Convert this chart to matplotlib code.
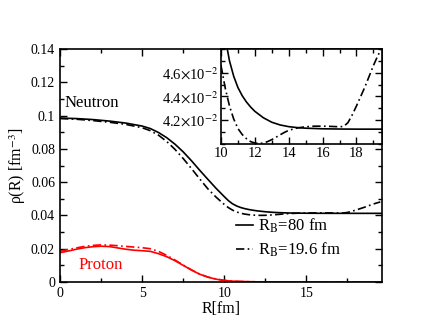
import matplotlib.pyplot as plt
from matplotlib.ticker import MultipleLocator, FuncFormatter

plt.rcParams['font.family'] = ['Liberation Serif', 'DejaVu Serif']
plt.rcParams['mathtext.fontset'] = 'stix'

# neutron density, R_B = 80 fm (solid)
r_n80 = [0, 1, 2, 3, 4, 5, 5.5, 6, 6.5, 7, 7.5, 8, 8.5, 9, 9.5, 10, 10.25, 10.5, 10.75,
         11.0, 11.25, 11.5, 11.75, 12.0, 12.5, 13.0, 13.5, 14.0, 14.5, 15.0, 16.0, 17.0,
         18.0, 19.6]
rho_n80 = [0.0985, 0.0982, 0.0976, 0.0967, 0.0955, 0.0937, 0.0922, 0.0898, 0.0867, 0.0828,
           0.0782, 0.0729, 0.0672, 0.0617, 0.0563, 0.0513, 0.0489, 0.0470, 0.0457,
           0.04475, 0.04407, 0.04354, 0.04311, 0.04275, 0.04221, 0.04183, 0.0416,
           0.04146, 0.04138, 0.04133, 0.04128, 0.04126, 0.04125, 0.04125]

# neutron density, R_B = 19.6 fm (dash-dot)
r_n19 = [0, 1, 2, 3, 4, 5, 5.5, 6, 6.5, 7, 7.5, 8, 8.5, 9, 9.5, 10, 10.25, 10.5, 10.75,
         11.0, 11.25, 11.5, 11.75, 12.0, 12.25, 12.5, 12.75, 13.0, 13.25, 13.5, 13.75,
         14.0, 14.5, 15.0, 15.5, 16.0, 16.5, 17.0, 17.25, 17.5, 17.75, 18.0, 18.25,
         18.5, 18.75, 19.0, 19.25, 19.5]
rho_n19 = [0.0982, 0.0978, 0.0970, 0.0960, 0.0947, 0.0927, 0.0909, 0.0882, 0.0844, 0.0797,
           0.0742, 0.0682, 0.0620, 0.0560, 0.0510, 0.0466, 0.0447, 0.0432, 0.0421,
           0.0413, 0.0408, 0.04045, 0.0402, 0.04008, 0.04004, 0.04008, 0.0402,
           0.04037, 0.04057, 0.04078, 0.04098, 0.04115, 0.04135, 0.04145, 0.0415,
           0.0415, 0.04148, 0.04145, 0.04148, 0.0418, 0.04245, 0.0432, 0.0440,
           0.0448, 0.0457, 0.0466, 0.0474, 0.0481]

# proton density
r_p = [0, 0.5, 1, 1.5, 2, 2.5, 3, 3.5, 4, 4.5, 5, 5.5, 6, 6.5, 7, 7.5, 8, 8.5,
       9, 9.5, 10, 10.5, 11, 12, 13, 19.6]
rho_p80 = [0.0176, 0.0186, 0.0197, 0.0206, 0.0212, 0.0215, 0.0213, 0.0205, 0.0197,
           0.0191, 0.0188, 0.0184, 0.0170, 0.0152, 0.0128, 0.0100, 0.0072, 0.0047,
           0.0029, 0.0017, 0.0009, 0.0005, 0.0003, 0.0001, 0.00004, 0.0]
rho_p19 = [0.0185, 0.0195, 0.0205, 0.0214, 0.0220, 0.0223, 0.0222, 0.0218, 0.0214,
           0.0210, 0.0206, 0.0200, 0.0184, 0.0160, 0.0132, 0.0102, 0.0073, 0.0048,
           0.0030, 0.0018, 0.0010, 0.0005, 0.0003, 0.0001, 0.00004, 0.0]

dashdot = (0, (5, 2, 1, 2))
lw = 1.2

fig = plt.figure(figsize=(4.3, 3.32), dpi=100)
ax = fig.add_axes([0.1395, 0.1506, 0.7488, 0.7018])

ax.plot(r_n80, rho_n80, color='black', lw=lw, label=r'R$_\mathrm{B}$=80 fm')
ax.plot(r_n19, rho_n19, color='black', lw=lw, ls=dashdot, label=r'R$_\mathrm{B}$=19.6 fm')
ax.plot(r_p, rho_p80, color='red', lw=lw)
ax.plot(r_p, rho_p19, color='red', lw=lw, ls=dashdot)

ax.set_xlim(0, 19.6)
ax.set_ylim(0, 0.14)
ax.xaxis.set_major_locator(MultipleLocator(5))
ax.xaxis.set_minor_locator(MultipleLocator(2.5))
ax.yaxis.set_major_locator(MultipleLocator(0.02))
ax.yaxis.set_minor_locator(MultipleLocator(0.01))
ax.yaxis.set_major_formatter(FuncFormatter(lambda v, p: '%g' % round(v, 3)))
ax.tick_params(which='both', direction='in', top=True, right=True, labelsize=10)
ax.tick_params(which='major', length=5, width=1)
ax.tick_params(which='minor', length=3, width=1)
for s in ax.spines.values():
    s.set_linewidth(1.2)

ax.set_xlabel('R[fm]', fontsize=11.5, labelpad=1)
ax.set_ylabel('ρ(R) [fm$^{-3}$]', fontsize=11.5, labelpad=2)

ax.text(0.25, 0.1076, 'Neutron', fontsize=12, va='center', ha='left')
ax.text(1.15, 0.0102, 'Proton', fontsize=12, va='center', ha='left', color='red')

ax.legend(loc='lower left', bbox_to_anchor=(0.5, 0.035), frameon=False,
          handlelength=1.0, handletextpad=0.3, labelspacing=0.3, fontsize=12)

# inset
ins = fig.add_axes([0.514, 0.5663, 0.374, 0.2861])
ins.plot(r_n80, rho_n80, color='black', lw=lw)
ins.plot(r_n19, rho_n19, color='black', lw=lw, ls=dashdot)
ins.set_xlim(10, 19.5)
ins.set_ylim(0.040, 0.048)
ins.xaxis.set_major_locator(MultipleLocator(2))
ins.xaxis.set_minor_locator(MultipleLocator(1))
ins.set_yticks([0.042, 0.044, 0.046])
ins.set_yticklabels([r'4.2$\times$10$^{-2}$', r'4.4$\times$10$^{-2}$', r'4.6$\times$10$^{-2}$'])
ins.yaxis.set_minor_locator(MultipleLocator(0.001))
ins.tick_params(which='both', direction='in', top=True, right=True, labelsize=10.5, pad=2)
ins.tick_params(which='major', length=5, width=1)
ins.tick_params(which='minor', length=3, width=1)
for s in ins.spines.values():
    s.set_linewidth(1.2)

fig.savefig('out.png', dpi=100)
